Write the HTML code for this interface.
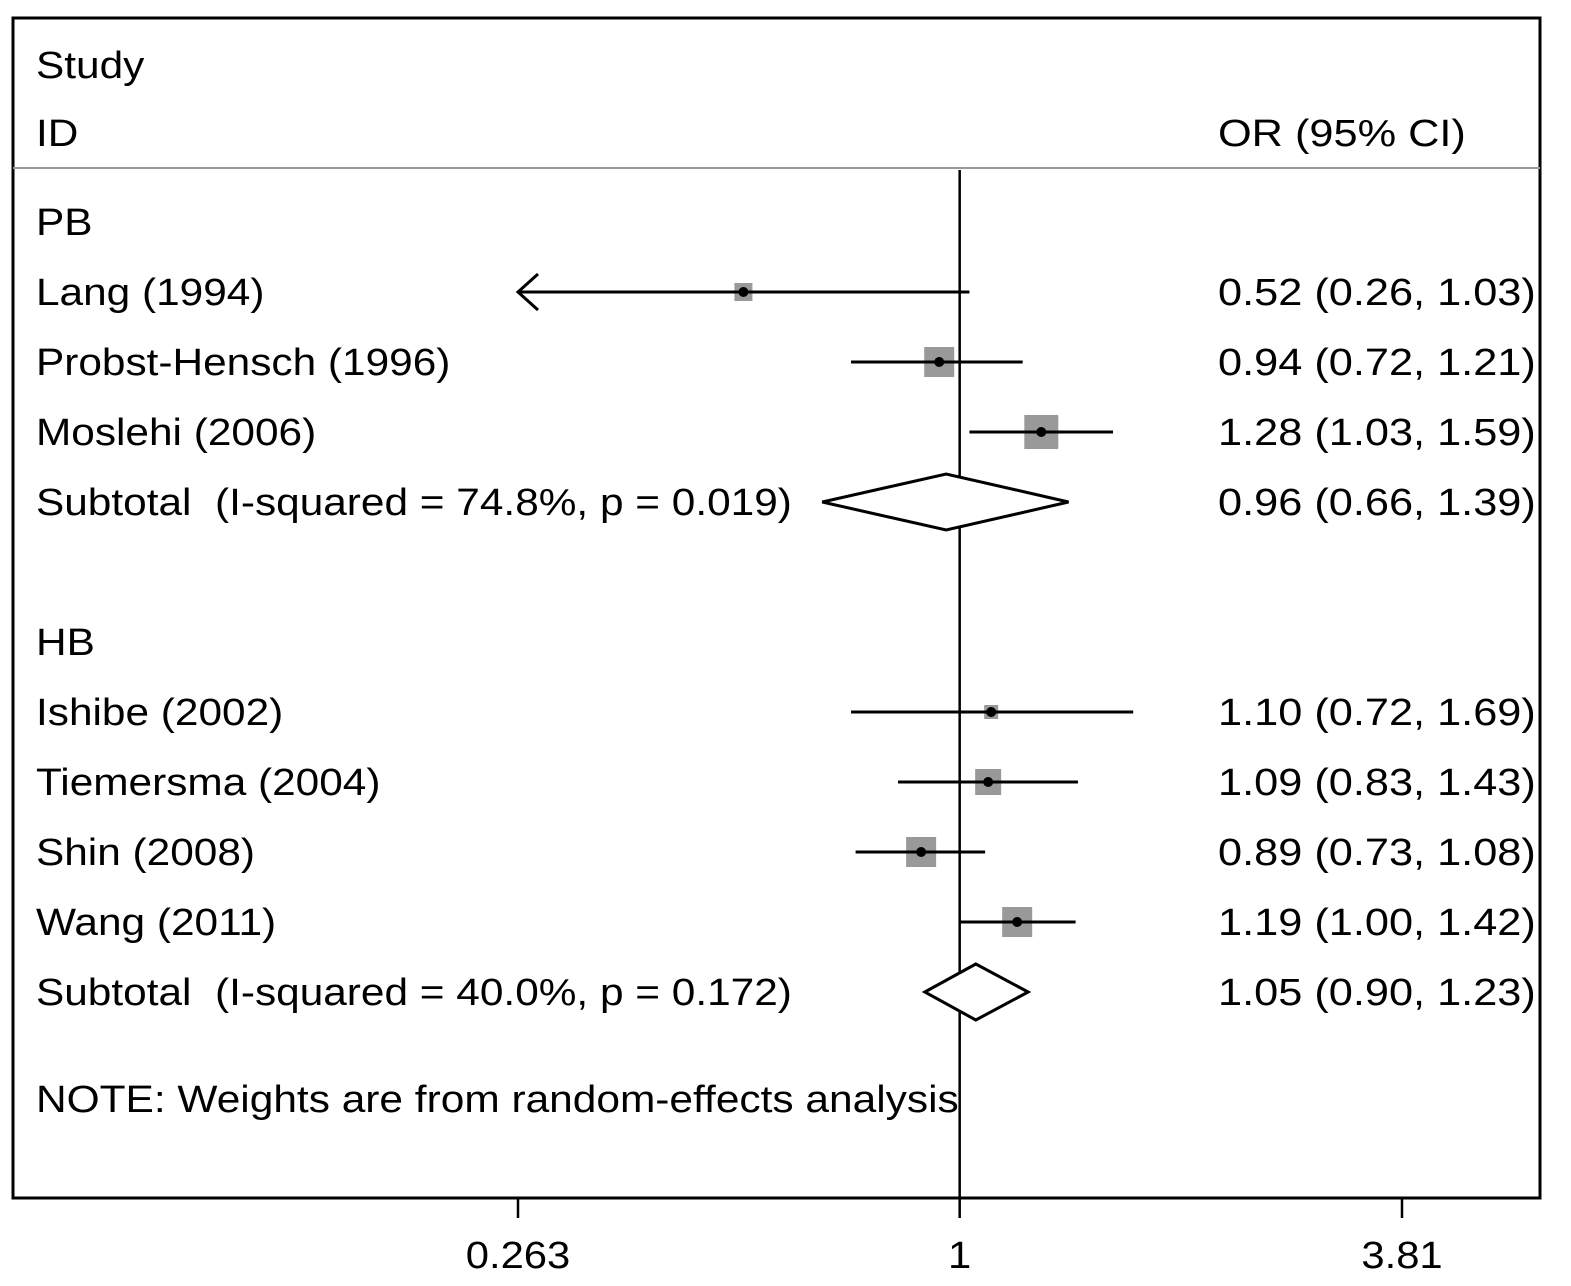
<!DOCTYPE html>
<html><head><meta charset="utf-8"><style>
body{margin:0;background:#fff}
svg{display:block}
text{font-family:"Liberation Sans",Arial,sans-serif;font-size:38px;fill:#000;white-space:pre}
</style></head><body>
<svg id="chart" width="1571" height="1286" viewBox="0 0 1571 1286" xmlns="http://www.w3.org/2000/svg">
<rect x="13" y="18" width="1527" height="1180" fill="none" stroke="#000" stroke-width="3"/>
<line x1="13" y1="168" x2="1540" y2="168" stroke="#999" stroke-width="2"/>
<text transform="translate(36,78) scale(1.115,1)">Study</text>
<text transform="translate(36,146) scale(1.115,1)">ID</text>
<text transform="translate(1218,146) scale(1.14,1)">OR (95% CI)</text>
<g id="marks"></g>
<text transform="translate(36,1112) scale(1.117,1)">NOTE: Weights are from random-effects analysis</text>
</svg>
<script>
const labels=["PB","Lang (1994)","Probst-Hensch (1996)","Moslehi (2006)","Subtotal  (I-squared = 74.8%, p = 0.019)","","HB","Ishibe (2002)","Tiemersma (2004)","Shin (2008)","Wang (2011)","Subtotal  (I-squared = 40.0%, p = 0.172)"];
const kinds=["group","study","study","study","sub","gap","group","study","study","study","study","sub"];
const ors=[null,0.52,0.94,1.28,0.96,null,null,1.10,1.09,0.89,1.19,1.05];
const lows=[null,0.26,0.72,1.03,0.66,null,null,0.72,0.83,0.73,1.00,0.90];
const highs=[null,1.03,1.21,1.59,1.39,null,null,1.69,1.43,1.08,1.42,1.23];
const weights=[0,18,30,34,0,0,0,14,26,30,30,0];
const ciText=["","0.52 (0.26, 1.03)","0.94 (0.72, 1.21)","1.28 (1.03, 1.59)","0.96 (0.66, 1.39)","","","1.10 (0.72, 1.69)","1.09 (0.83, 1.43)","0.89 (0.73, 1.08)","1.19 (1.00, 1.42)","1.05 (0.90, 1.23)"];
const ticks=[0.263,1,3.81];
const tickLabels=["0.263","1","3.81"];

const NS="http://www.w3.org/2000/svg";
const g=document.getElementById('marks');
const xMin=0.263,xMax=3.81,px0=518,px1=1402;
function x(v){return px0+(Math.log(v)-Math.log(xMin))/(Math.log(xMax)-Math.log(xMin))*(px1-px0);}
function y(i){return 222+i*70;}
function mk(tag,at){const e=document.createElementNS(NS,tag);for(const k in at)e.setAttribute(k,at[k]);g.appendChild(e);return e;}

const nl=mk('line',{x1:x(1),y1:170,x2:x(1),y2:1198,stroke:'#000','stroke-width':2.5});



labels.forEach((l,i)=>{
  if(kinds[i]==='gap')return;
  const yy=y(i);
  const t=mk('text',{transform:`translate(36,${yy+13}) scale(1.115,1)`});t.textContent=l;
  
  
  if(ciText[i]){const c=mk('text',{transform:`translate(1218,${yy+13}) scale(1.14,1)`});c.textContent=ciText[i];
    
    }
  if(kinds[i]==='study'){
    const lo=Math.max(lows[i],xMin),hi=Math.min(highs[i],xMax);
    const s=weights[i];
    const b=mk('rect',{x:x(ors[i])-s/2,y:yy-s/2,width:s,height:s,fill:'#999'});
    
    
    const ln=mk('line',{x1:x(lo),y1:yy,x2:x(hi),y2:yy,stroke:'#000','stroke-width':3});
    
    
    if(lows[i]<xMin){
      const a=mk('polyline',{points:`${x(xMin)+20},${yy-18} ${x(xMin)},${yy} ${x(xMin)+20},${yy+18}`,fill:'none',stroke:'#000','stroke-width':3});
      
      
    }
    const d=mk('circle',{cx:x(ors[i]),cy:yy,r:5,fill:'#000'});
    
    
  } else if(kinds[i]==='sub'){
    const h=28;
    const p=mk('polygon',{points:`${x(lows[i])},${yy} ${x(ors[i])},${yy-h} ${x(highs[i])},${yy} ${x(ors[i])},${yy+h}`,fill:'#fff',stroke:'#000','stroke-width':3});
    
    
  }
});
ticks.forEach((v,i)=>{
  const tk=mk('line',{x1:x(v),y1:1198,x2:x(v),y2:1218,stroke:'#000','stroke-width':2.5});
  
  
  const tl=mk('text',{transform:`translate(${x(v)},1268) scale(1.1,1)`,'text-anchor':'middle'});tl.textContent=tickLabels[i];
  
  
});
</script>
</body></html>
